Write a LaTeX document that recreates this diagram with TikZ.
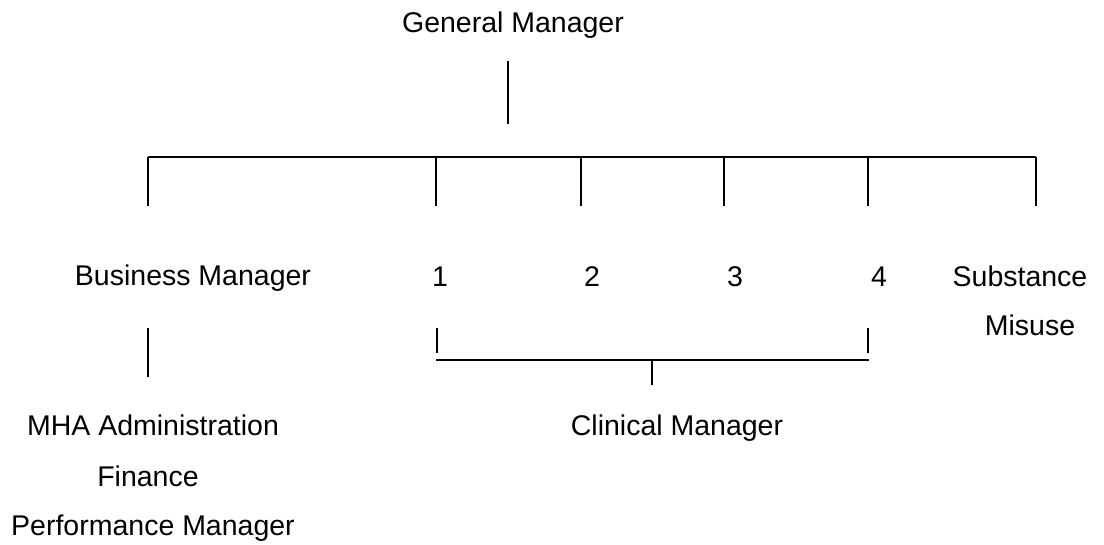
\documentclass[tikz,border=0pt]{standalone}
\usepackage{fontspec}
\setmainfont{Liberation Sans}
\begin{document}
\begin{tikzpicture}[x=1pt,y=-1pt,
  lbl/.style={anchor=base,inner sep=0pt,font=\fontsize{28.5}{30}\selectfont},
  wire/.style={line width=2.4pt,line cap=butt}]
\useasboundingbox (0,0) rectangle (1104,544);

% labels
\node[lbl] (gm)  at (513,32)  {General Manager};
\node[lbl] (bm)  at (193,285) {Business Manager};
\node[lbl] (c1)  at (440,286) {1};
\node[lbl] (c2)  at (592,286) {2};
\node[lbl] (c3)  at (735,286) {3};
\node[lbl] (c4)  at (879,286) {4};
\node[lbl] (sub) at (1020,286) {Substance};
\node[lbl] (mis) at (1030,335) {Misuse};
\node[lbl] (cm)  at (677,435) {Clinical Manager};
\node[lbl] (mha) at (153,435) {MHA Administration};
\node[lbl] (fin) at (148,486) {Finance};
\node[lbl] (pm)  at (153,535) {Performance Manager};

% top-level branch
\coordinate (gmA) at (508,61);
\coordinate (gmB) at (508,124);
\coordinate (barL) at (148,157);
\coordinate (barR) at (1036,157);
\draw[wire] (gmA) -- (gmB);
\draw[wire] (barL) -- (barR);
\foreach \x/\n in {148/a,436/b,581/c,724/d,868/e,1036/f}{
  \coordinate (t\n) at (\x,157);
  \coordinate (d\n) at (\x,206);
  \draw[wire] (t\n) -- (d\n);
}

% business manager link
\coordinate (bmA) at (148,328);
\coordinate (bmB) at (148,377);
\draw[wire] (bmA) -- (bmB);

% clinical bracket
\coordinate (kL) at (437,328);
\coordinate (kR) at (868,328);
\coordinate (kLb) at (437,353);
\coordinate (kRb) at (868,353);
\coordinate (hL) at (436,360);
\coordinate (hR) at (869,360);
\coordinate (sA) at (652,360);
\coordinate (sB) at (652,385);
\draw[wire] (kL) -- (kLb);
\draw[wire] (kR) -- (kRb);
\draw[wire] (hL) -- (hR);
\draw[wire] (sA) -- (sB);
\end{tikzpicture}
\end{document}
